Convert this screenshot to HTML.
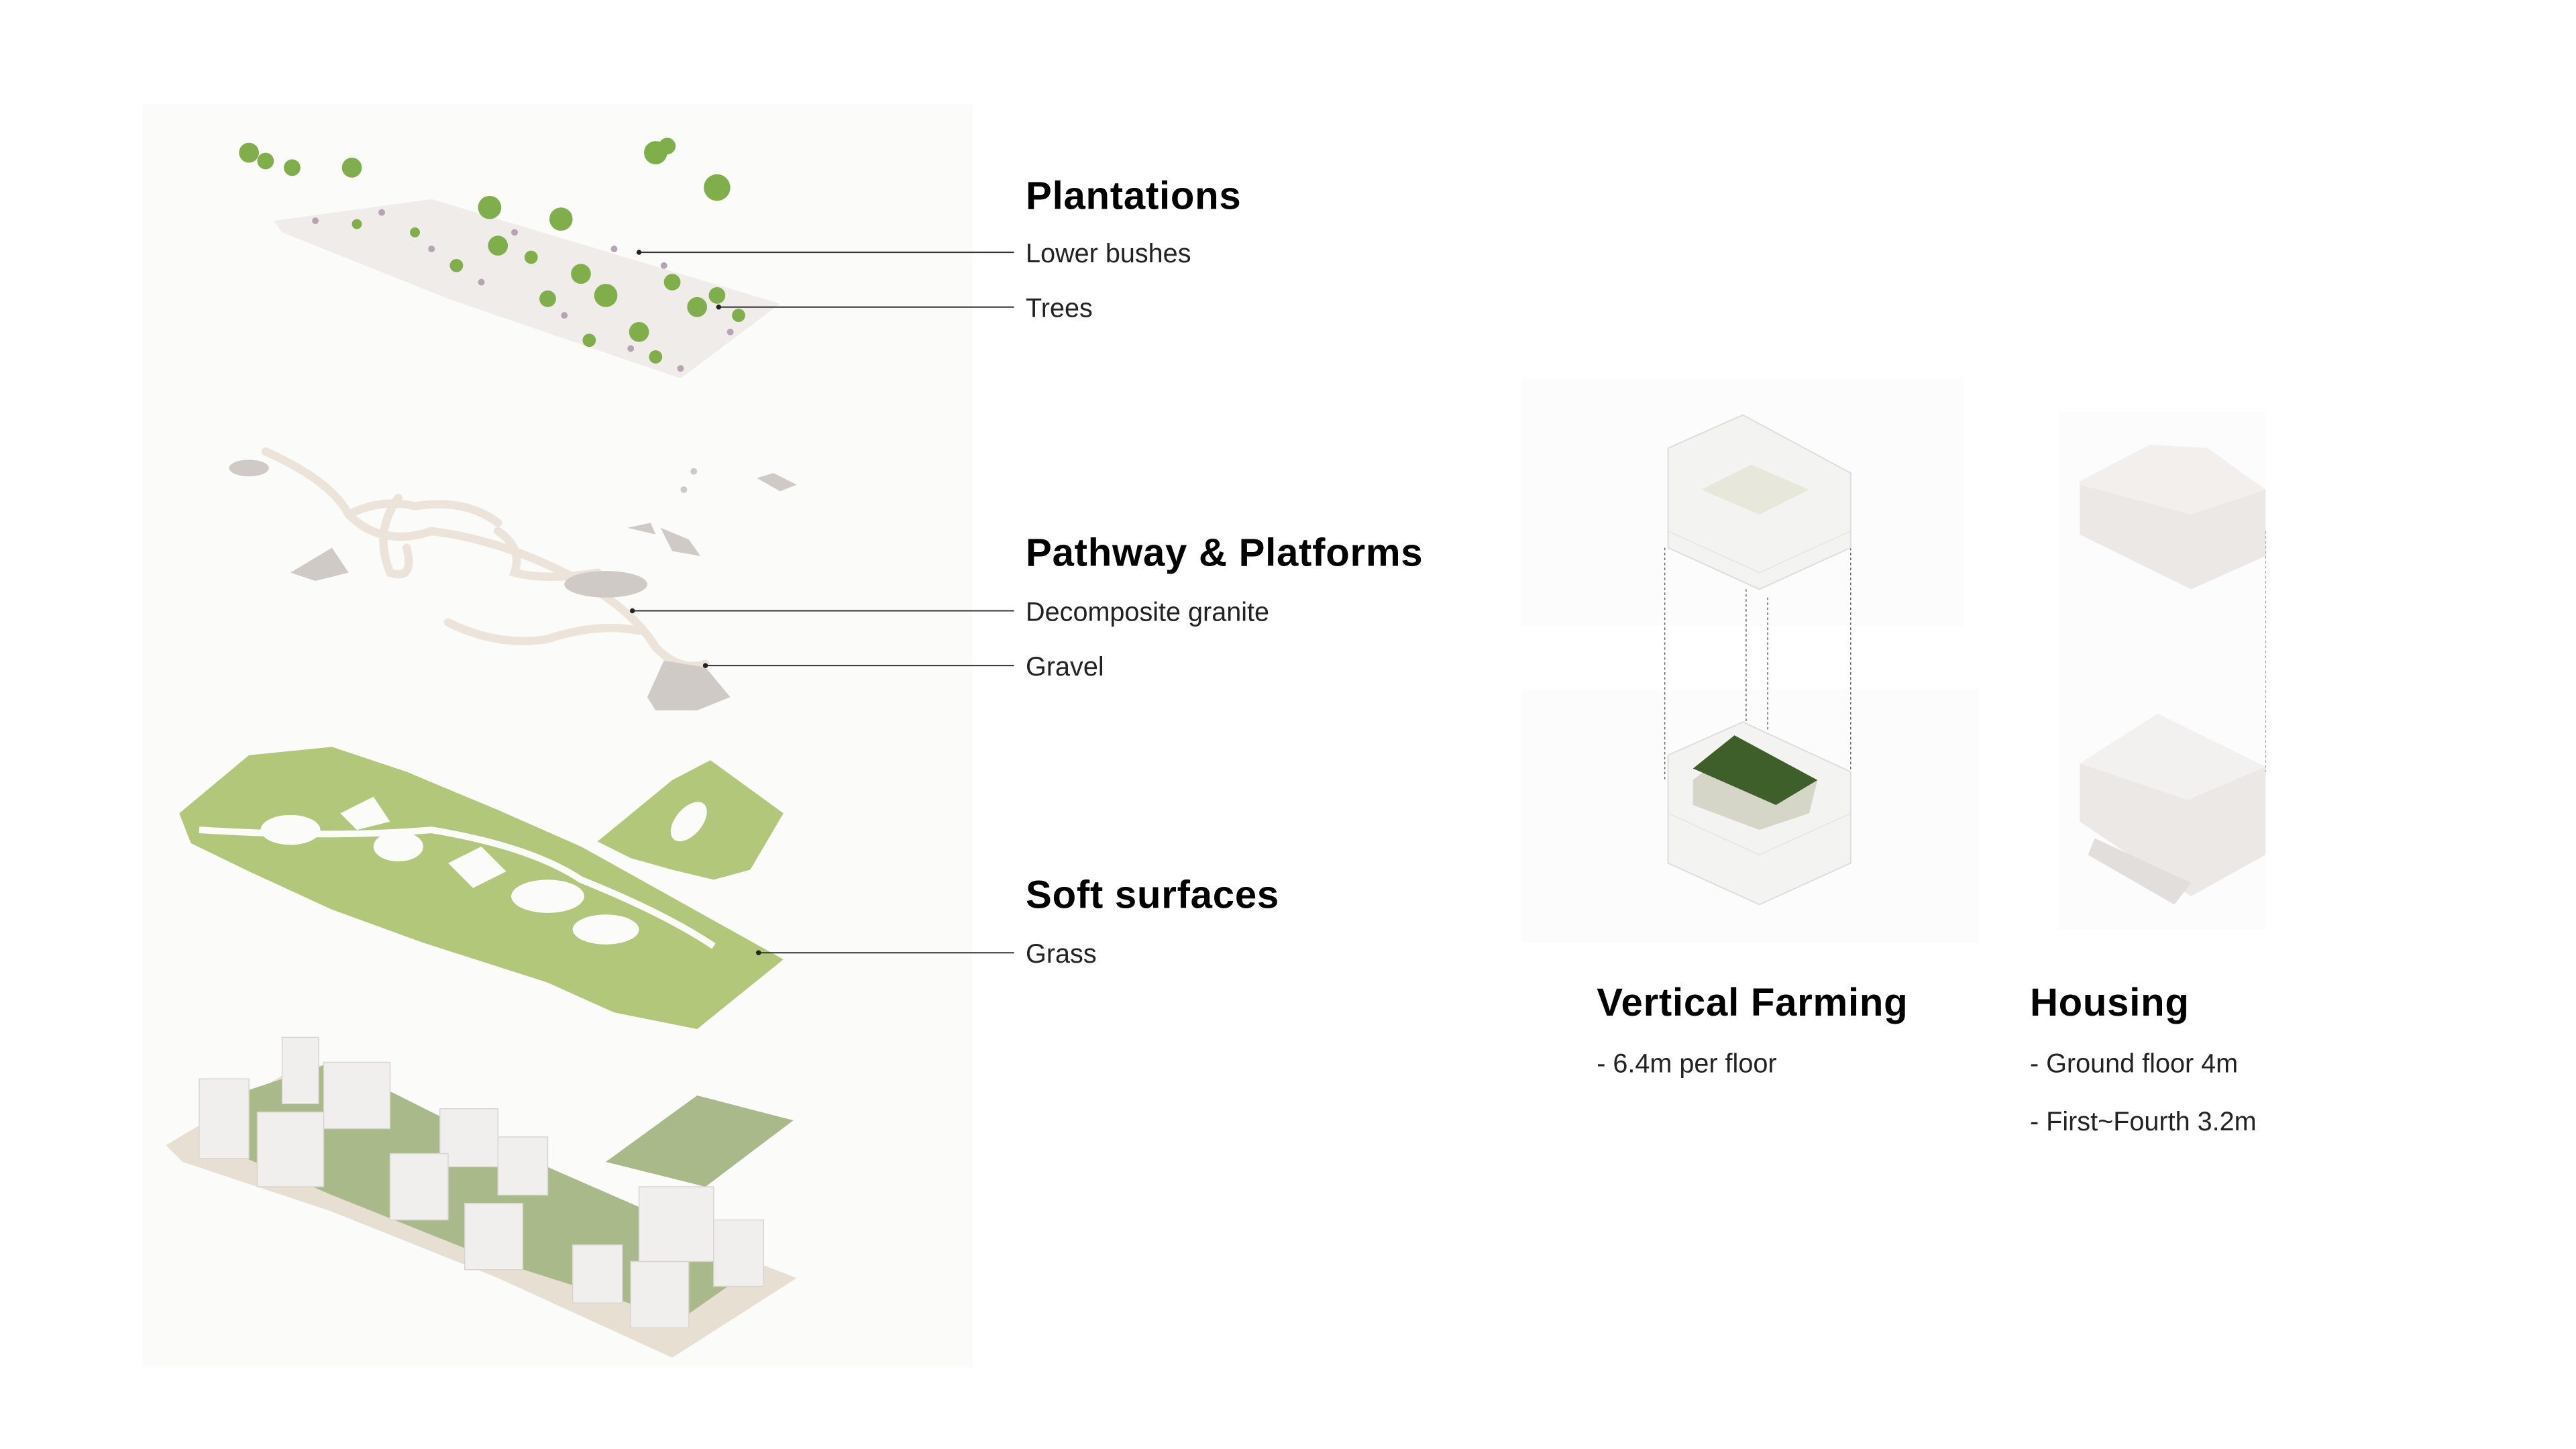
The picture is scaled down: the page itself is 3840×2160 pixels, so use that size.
<!DOCTYPE html>
<html><head><meta charset="utf-8"><style>
html,body{margin:0;padding:0;background:#fff;}
svg{display:block;}
.h{font-family:"Liberation Sans",sans-serif;font-weight:bold;font-size:23.5px;letter-spacing:0.3px;fill:#000;}
.l{font-family:"Liberation Sans",sans-serif;font-size:16px;fill:#222;}
</style></head><body>
<svg width="3840" height="2160" viewBox="0 0 1552 873" xmlns="http://www.w3.org/2000/svg">
<rect width="1552" height="873" fill="#fff"/>
<rect x="86" y="63" width="500" height="761" fill="#fbfbfa"/>
<polygon points="165,133 260,120 470,183 410,228 270,180 170,140" fill="#f0ecea"/>
<g fill="#7fae4a">
<circle cx="150" cy="92" r="6"/><circle cx="160" cy="97" r="5"/><circle cx="176" cy="101" r="5"/><circle cx="212" cy="101" r="6"/><circle cx="395" cy="92" r="7"/><circle cx="402" cy="88" r="5"/><circle cx="432" cy="113" r="8"/><circle cx="295" cy="125" r="7"/><circle cx="338" cy="132" r="7"/><circle cx="300" cy="148" r="6"/><circle cx="350" cy="165" r="6"/><circle cx="365" cy="178" r="7"/><circle cx="330" cy="180" r="5"/><circle cx="385" cy="200" r="6"/><circle cx="420" cy="185" r="6"/><circle cx="432" cy="178" r="5"/><circle cx="405" cy="170" r="5"/><circle cx="275" cy="160" r="4"/><circle cx="250" cy="140" r="3"/><circle cx="215" cy="135" r="3"/><circle cx="320" cy="155" r="4"/><circle cx="355" cy="205" r="4"/><circle cx="395" cy="215" r="4"/><circle cx="445" cy="190" r="4"/>
</g>
<g fill="#b7a3b3">
<circle cx="190" cy="133" r="2"/><circle cx="230" cy="128" r="2"/><circle cx="260" cy="150" r="2"/><circle cx="290" cy="170" r="2"/><circle cx="340" cy="190" r="2"/><circle cx="380" cy="210" r="2"/><circle cx="410" cy="222" r="2"/><circle cx="440" cy="200" r="2"/><circle cx="310" cy="140" r="2"/><circle cx="370" cy="150" r="2"/><circle cx="400" cy="160" r="2"/>
</g>
<g fill="none" stroke="#ece3da" stroke-width="5" stroke-linecap="round">
<path d="M160,272 Q200,290 210,310 Q230,330 260,320 Q300,325 340,345 Q380,365 395,390 Q410,405 425,400"/>
<path d="M210,310 Q230,300 250,305 Q280,300 300,315"/>
<path d="M240,300 Q225,320 235,345 Q250,350 245,330"/>
<path d="M300,320 Q315,330 310,345 Q330,350 360,345"/>
<path d="M270,375 Q300,390 330,385 Q360,375 385,380"/>
</g>
<g fill="#cfcac6">
<ellipse cx="150" cy="282" rx="12" ry="5"/><polygon points="175,345 200,330 210,345 190,350"/><ellipse cx="365" cy="352" rx="25" ry="8"/><polygon points="390,420 400,398 425,402 440,420 420,428 395,428"/><polygon points="378,318 392,315 395,322"/><polygon points="398,318 415,325 422,335 405,332"/><polygon points="456,288 466,285 480,292 470,296"/><circle cx="418" cy="284" r="2"/><circle cx="412" cy="295" r="2"/>
</g>
<polygon points="108,490 150,455 200,450 245,465 300,488 350,510 472,578 420,620 370,610 330,592 255,568 200,548 150,525 115,508" fill="#b3c77a"/>
<polygon points="360,507 405,470 428,458 472,490 452,524 430,530 405,524 380,517" fill="#b3c77a"/>
<g fill="#fbfbfa">
<ellipse cx="175" cy="500" rx="18" ry="9"/><ellipse cx="240" cy="510" rx="15" ry="9"/><ellipse cx="330" cy="540" rx="22" ry="10"/><ellipse cx="365" cy="560" rx="20" ry="9"/><polygon points="270,520 290,510 305,525 285,535"/><polygon points="205,490 225,480 235,495 215,500"/><ellipse cx="415" cy="495" rx="8" ry="14" transform="rotate(40 415 495)"/>
</g>
<g fill="none" stroke="#fbfbfa" stroke-width="4"><path d="M120,500 Q200,505 260,500 Q320,510 350,530 Q400,550 430,570"/></g>
<polygon points="100,690 175,645 300,700 480,770 405,818 300,770 200,730 110,700" fill="#e8dfd3"/>
<polygon points="140,660 200,640 300,690 460,760 410,795 300,760 200,720 130,690" fill="#a9b98a"/>
<polygon points="365,700 420,660 478,675 425,715" fill="#a9b98a"/>
<g fill="#f1efed" stroke="#d8d4d0" stroke-width="0.6">
<rect x="120" y="650" width="30" height="48"/><rect x="170" y="625" width="22" height="40"/><rect x="195" y="640" width="40" height="40"/><rect x="155" y="670" width="40" height="45"/><rect x="265" y="668" width="35" height="35"/><rect x="300" y="685" width="30" height="35"/><rect x="235" y="695" width="35" height="40"/><rect x="280" y="725" width="35" height="40"/><rect x="345" y="750" width="30" height="35"/><rect x="380" y="760" width="35" height="40"/><rect x="385" y="715" width="45" height="45"/><rect x="430" y="735" width="30" height="40"/>
</g>
<g stroke="#333" stroke-width="0.8">
<line x1="385" y1="152" x2="611" y2="152"/><line x1="433" y1="185" x2="611" y2="185"/>
<line x1="381" y1="368" x2="611" y2="368"/><line x1="425" y1="401" x2="611" y2="401"/>
<line x1="457" y1="574" x2="611" y2="574"/>
</g>
<g fill="#222"><circle cx="385" cy="152" r="1.5"/><circle cx="433" cy="185" r="1.5"/><circle cx="381" cy="368" r="1.5"/><circle cx="425" cy="401" r="1.5"/><circle cx="457" cy="574" r="1.5"/></g>
<text class="h" x="618" y="126">Plantations</text>
<text class="l" x="618" y="158">Lower bushes</text>
<text class="l" x="618" y="191">Trees</text>
<text class="h" x="618" y="341">Pathway &amp; Platforms</text>
<text class="l" x="618" y="374">Decomposite granite</text>
<text class="l" x="618" y="407">Gravel</text>
<text class="h" x="618" y="547">Soft surfaces</text>
<text class="l" x="618" y="580">Grass</text>
<rect x="917" y="228" width="266" height="149" fill="#fcfcfc"/>
<rect x="917" y="415" width="275" height="153" fill="#fcfcfc"/>
<g fill="none" stroke="#666" stroke-width="0.6" stroke-dasharray="1.5,1.5">
<line x1="1003" y1="330" x2="1003" y2="470"/><line x1="1115" y1="330" x2="1115" y2="470"/><line x1="1052" y1="355" x2="1052" y2="445"/><line x1="1065" y1="360" x2="1065" y2="440"/>
<line x1="1253" y1="320" x2="1253" y2="465"/><line x1="1365" y1="320" x2="1365" y2="465"/><line x1="1315" y1="355" x2="1315" y2="440"/><line x1="1328" y1="355" x2="1328" y2="445"/>
</g>
<g fill="#f3f3f1" stroke="#ddd" stroke-width="0.8">
<polygon points="1005,270 1050,250 1115,285 1115,330 1060,355 1005,330"/>
<polygon points="1005,455 1050,435 1115,465 1115,520 1060,545 1005,520"/>
</g>
<polygon points="1020,470 1045,450 1095,470 1090,490 1060,500 1020,485" fill="#d6d6c8"/>
<polygon points="1020,463 1045,443 1095,470 1070,485" fill="#3e5f2a"/>
<polygon points="1025,295 1055,280 1090,295 1060,310" fill="#e8e7dc"/>
<g stroke="#e4e4e4" stroke-width="0.6">
<line x1="1005" y1="320" x2="1060" y2="345"/><line x1="1060" y1="345" x2="1115" y2="320"/><line x1="1005" y1="490" x2="1060" y2="515"/><line x1="1060" y1="515" x2="1115" y2="490"/>
</g>
<rect x="1240" y="248" width="125" height="312" fill="#fcfcfc"/>
<polygon points="1253,290 1295,268 1330,270 1365,295 1365,335 1320,355 1253,322" fill="#ece8e6"/>
<polygon points="1253,290 1295,268 1330,270 1365,295 1320,310 1253,292" fill="#f2efed"/>
<polygon points="1253,460 1300,430 1365,462 1365,515 1320,540 1253,495" fill="#ece8e6"/>
<polygon points="1253,460 1300,430 1365,462 1318,482" fill="#f3f1ef"/>
<polygon points="1262,505 1320,532 1310,545 1258,515" fill="#e2dedb"/>
<text class="h" x="962" y="612">Vertical Farming</text>
<text class="l" x="962" y="646">- 6.4m per floor</text>
<text class="h" x="1223" y="612">Housing</text>
<text class="l" x="1223" y="646">- Ground floor 4m</text>
<text class="l" x="1223" y="681">- First~Fourth 3.2m</text>
</svg>
</body></html>
